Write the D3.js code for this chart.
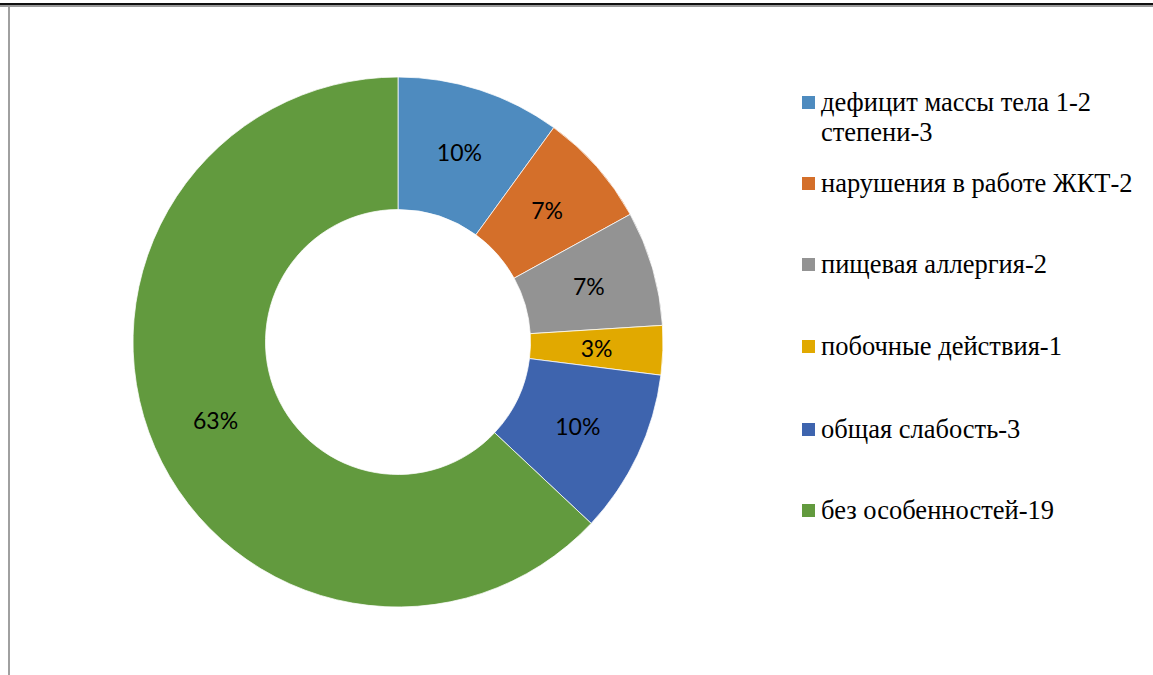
<!DOCTYPE html>
<html><head><meta charset="utf-8">
<script src="https://cdn.jsdelivr.net/npm/d3@7"></script>
<style>body{margin:0;background:#fff;}svg{display:block;}</style>
</head><body>
<svg id="chart" width="1153" height="675"></svg>
<script>
const categories = [
  ["дефицит массы тела 1-2", "степени-3"],
  ["нарушения в работе ЖКТ-2"],
  ["пищевая аллергия-2"],
  ["побочные действия-1"],
  ["общая слабость-3"],
  ["без особенностей-19"]
];
const percents = [10, 7, 7, 3, 10, 63];
const colors = ["#4E8BBF", "#D46F2A", "#939393", "#E1A900", "#3E64AE", "#629A3E"];

const svg = d3.select("#chart");
// frame lines
svg.append("rect").attr("x",0).attr("y",3).attr("width",1153).attr("height",2).attr("fill","#111");
svg.append("rect").attr("x",0).attr("y",5).attr("width",1153).attr("height",2).attr("fill","#9a9a9a");
svg.append("rect").attr("x",8).attr("y",7).attr("width",2).attr("height",668).attr("fill","#a0a0a0");

const cx = 398, cy = 342, R = 265, r = 132.5;
const pie = d3.pie().sort(null).value(d => d)(percents);
const arc = d3.arc().innerRadius(r).outerRadius(R);
const g = svg.append("g").attr("transform", `translate(${cx},${cy})`);
g.selectAll("path").data(pie).join("path")
  .attr("d", arc).attr("fill", (d,i) => colors[i])
  .attr("stroke", "#fff").attr("stroke-width", 0.75);
g.selectAll("text").data(pie).join("text")
  .style("font-family", '"Lato"').style("font-size", "23px").style("fill", "#000")
  .attr("transform", d => `translate(${arc.centroid(d)})`)
  .attr("text-anchor","middle").attr("dy","0.36em")
  .text(d => d.data + "%");

// legend
const baselines = [111, 192, 273, 355, 438, 519];
const lg = svg.append("g");
categories.forEach((lines, i) => {
  const y = baselines[i];
  lg.append("rect").attr("x",802).attr("y",y-15).attr("width",13).attr("height",13).attr("fill",colors[i]);
  const t = lg.append("text").attr("x",821).attr("y",y)
    .style("font-family", '"Liberation Serif"').style("font-size", "26.5px").style("fill", "#000");
  lines.forEach((l, j) => t.append("tspan").attr("x",821).attr("dy", j===0?0:30).text(l));
});
</script>
</body></html>
